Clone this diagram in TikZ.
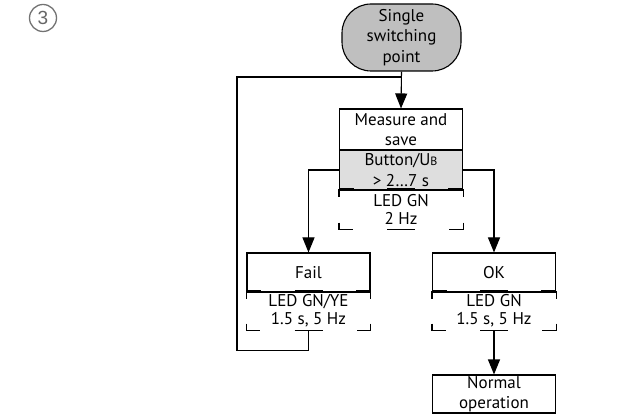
\documentclass[tikz,border=0pt]{standalone}
\usepackage{fontspec}
\setmainfont{PT Sans}
\newfontfamily\numfont{Liberation Sans}
\usetikzlibrary{arrows.meta}

% LED display outline below a box
\newcommand{\ledframe}[1]{%
  \draw[line width=2.2pt] (#1.north west) -- ++(15,0);
  \draw[line width=2.2pt] (#1.north) ++(-14,0) -- ++(28,0);
  \draw[line width=2.2pt] (#1.north east) -- ++(-15,0);
  \draw (#1.north west) -- ++(0,8);
  \draw (#1.north east) -- ++(0,8);
  \draw (#1.south west) ++(0,-7) -- ++(0,7) -- ++(14,0);
  \draw (#1.south east) ++(0,-7) -- ++(0,7) -- ++(-14,0);
  \draw (#1.south) ++(-14,0) -- ++(28,0);
}

\begin{document}
\begin{tikzpicture}[x=1pt,y=-1pt,line width=1.1pt,
  txt/.style={font=\fontsize{17}{20.5}\selectfont, align=center, inner sep=0pt},
  term/.style={txt, draw, fill=black!25, rounded corners=29pt, minimum width=119, minimum height=67},
  box/.style={txt, draw, minimum width=123, minimum height=39},
  led/.style={txt, font=\fontsize{17}{18}\selectfont, minimum width=123, minimum height=38},
  arr/.style={-{Triangle[length=15pt,width=12pt]}}]
\useasboundingbox (0,0) rectangle (626,419);
% Number in a circle
\node[circle, draw=black!55, line width=1.3pt, minimum size=27, inner sep=0pt, text=black!60,
  font=\numfont\fontsize{19}{19}\selectfont] (num) at (43,18) {3};
% Start of the flow
\node[term] (start) at (401.5,37.5) {Single\\switching\\point};
% Measure step and its condition
\node[box, minimum height=41] (measure) at (401,129.5) {Measure and\\save};
\node[box, fill=black!13, minimum height=40] (button) at (401,170) {Button/U{\fontsize{12}{12}\selectfont B}\\> 2…7 s};
\node[led, minimum height=39] (ledmeas) at (401,209.5) {LED GN\\2 Hz};
\ledframe{ledmeas}
% The two results
\node[box] (fail) at (308.5,272.5) {Fail};
\node[led] (ledfail) at (308.5,311) {LED GN/YE\\1.5 s, 5 Hz};
\ledframe{ledfail}
\node[box] (ok) at (494,272.5) {OK};
\node[led] (ledok) at (494,311) {LED GN\\1.5 s, 5 Hz};
\ledframe{ledok}
% End
\node[box, minimum height=38] (normal) at (494,394) {Normal\\operation};
% Connectors
\coordinate (loop) at (237,77);
\draw[arr] (start.south) -- (measure.north);
\draw (ledfail.south) -- ++(0,20) -| (loop) -- (loop -| start.south);
\draw[arr] (button.west) -| (fail.north);
\draw[arr] (button.east) -| (ok.north);
\draw[arr] (ledok.south) -- (normal.north);
\end{tikzpicture}
\end{document}
